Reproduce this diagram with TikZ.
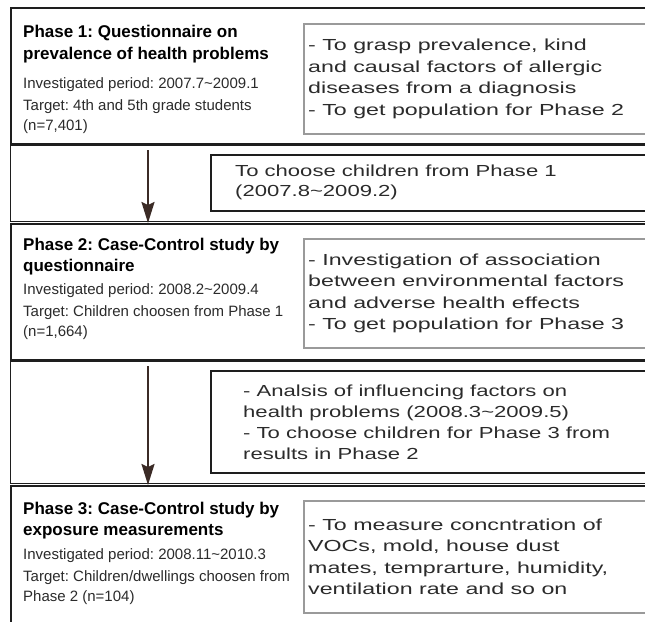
\documentclass[tikz,border=0pt]{standalone}
\usepackage{fontspec}
\setmainfont{Liberation Sans}
\newfontfamily\aimfont[FakeStretch=1.45]{Liberation Sans}
\newfontfamily\selfont[FakeStretch=1.38]{Liberation Sans}
\usepackage{xcolor}
\usepackage{tikz}
\usetikzlibrary{arrows.meta, positioning, calc}
\frenchspacing

\definecolor{boxline}{HTML}{1E1E1E}
\definecolor{aimline}{HTML}{9A9A9A}
\definecolor{flowbrown}{HTML}{3B2B26}
\definecolor{bodytext}{HTML}{2B2B2B}

\begin{document}
\begin{tikzpicture}[
  x=1pt, y=1pt,
  phase/.style={rectangle, draw=boxline, line width=1.6pt, fill=white, anchor=north west,
                inner sep=0pt, minimum width=650pt, minimum height=#1},
  band/.style={rectangle, draw=boxline, line width=1.2pt, anchor=north west,
               inner sep=0pt, minimum width=650pt, minimum height=#1},
  aim/.style={rectangle, draw=aimline, line width=2pt, fill=white, anchor=north west,
              inner sep=0pt, minimum width=360pt, minimum height=#1},
  select/.style={rectangle, draw=boxline, line width=1.6pt, anchor=north west,
                 inner sep=0pt, minimum width=450pt, minimum height=#1},
  heading/.style={anchor=north west, inner sep=0pt, align=left, text=black,
                  font=\fontsize{17}{21.5}\selectfont\bfseries},
  info/.style={inner sep=0pt, align=left, text=bodytext,
               font=\fontsize{15}{19.5}\selectfont},
  note/.style={inner sep=0pt, align=left, text=bodytext,
               font=\aimfont\fontsize{16}{21.5}\selectfont},
  pick/.style={inner sep=0pt, align=left, text=bodytext,
               font=\selfont\fontsize{16}{21}\selectfont},
  flow/.style={draw=flowbrown, line width=2pt,
               -{Stealth[length=21pt, width=13pt, inset=3pt]}},
]
  \useasboundingbox (0,0) rectangle (645,-621);
  \clip (0,0) rectangle (645,-621);

  % ── Phase 1 ──
  \node[phase=136pt] (p1) at (10,-7) {};
  \node[aim=110pt] (g1) at (303,-23) {};
  \node[heading] (t1) at ([shift={(13,-18)}]p1.north west)
    {Phase 1: Questionnaire on\\prevalence of health problems};
  \node[info, below=14.5pt of t1.south west, anchor=north west] (i1)
    {Investigated period: 2007.7\textasciitilde 2009.1\\[3pt]
     Target: 4th and 5th grade students\\(n=7,401)};
  \node[note, right=5pt of g1.west, anchor=west] (n1)
    {- To grasp prevalence, kind\\and causal factors of allergic\\diseases from a diagnosis\\- To get population for Phase 2};

  % ── selection 1 ──
  \node[band=76pt] (b1) at (10,-145) {};
  \node[select=56pt] (c1) at (210,-154) {};
  \node[pick, font=\selfont\fontsize{16}{20}\selectfont, right=25pt of c1.west, anchor=west] (s1)
    {To choose children from Phase 1\\(2007.8\textasciitilde 2009.2)};

  % ── Phase 2 ──
  \node[phase=136pt] (p2) at (10,-223) {};
  \node[aim=109pt] (g2) at (303,-238) {};
  \node[heading] (t2) at ([shift={(13,-14.5)}]p2.north west)
    {Phase 2: Case-Control study by\\questionnaire};
  \node[info, below=8pt of t2.south west, anchor=north west] (i2)
    {Investigated period: 2008.2\textasciitilde 2009.4\\[3pt]
     Target: Children choosen from Phase 1\\(n=1,664)};
  \node[note, right=5pt of g2.west, anchor=west] (n2)
    {- Investigation of association\\between environmental factors\\and adverse health effects\\- To get population for Phase 3};

  % ── selection 2 ──
  \node[band=122pt] (b2) at (10,-361) {};
  \node[select=102pt] (c2) at (210,-370) {};
  \node[pick, right=33pt of c2.west, anchor=west] (s2)
    {- Analsis of influencing factors on\\health problems (2008.3\textasciitilde 2009.5)\\- To choose children for Phase 3 from\\results in Phase 2};

  % ── Phase 3 ──
  \node[phase=160pt] (p3) at (10,-485) {};
  \node[aim=112pt] (g3) at (303,-500) {};
  \node[heading] (t3) at ([shift={(13,-16.5)}]p3.north west)
    {Phase 3: Case-Control study by\\exposure measurements};
  \node[info, below=9pt of t3.south west, anchor=north west] (i3)
    {Investigated period: 2008.11\textasciitilde 2010.3\\[3pt]
     Target: Children/dwellings choosen from\\Phase 2 (n=104)};
  \node[note, right=5pt of g3.west, anchor=west] (n3)
    {- To measure concntration of\\VOCs, mold, house dust\\mates, temprarture, humidity,\\ventilation rate and so on};

  % ── flow arrows ──
  \coordinate (a1) at (148,-150);
  \coordinate (a2) at (148,-366);
  \draw[flow] (a1) -- (a1 |- p2.north);
  \draw[flow] (a2) -- (a2 |- p3.north);
\end{tikzpicture}
\end{document}
